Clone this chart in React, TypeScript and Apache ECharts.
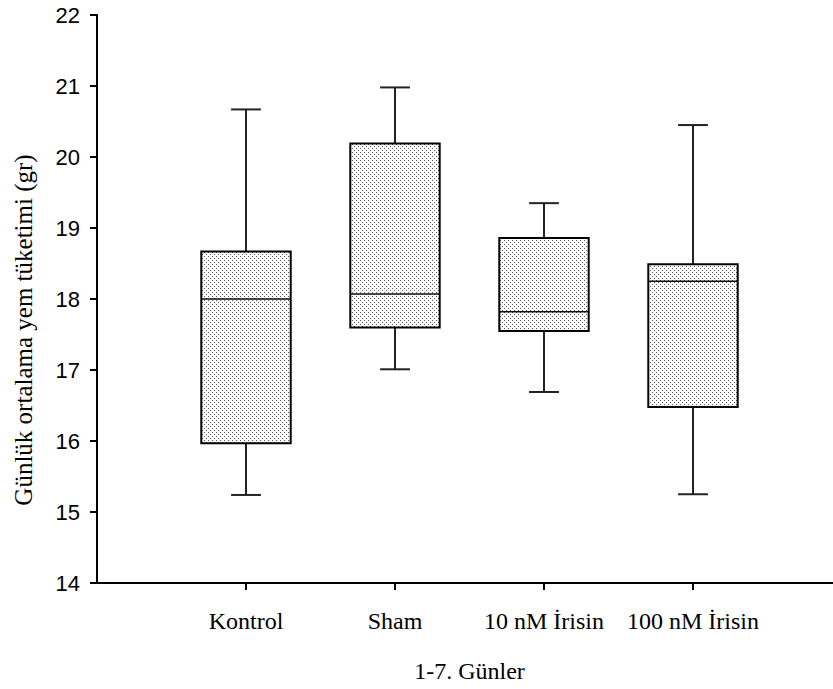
import React, { useEffect, useRef } from 'react';
import * as echarts from 'echarts';

// Category slots (blank slots at both ends keep the spacing of the original)
const categories = ['', 'Kontrol', 'Sham', '10 nM İrisin', '100 nM İrisin', ''];
const groups = ['Kontrol', 'Sham', '10 nM İrisin', '100 nM İrisin'];
const minValues = [15.24, 17.01, 16.69, 15.25];
const q1Values = [15.97, 17.6, 17.55, 16.48];
const medianValues = [18.0, 18.07, 17.82, 18.25];
const q3Values = [18.67, 20.19, 18.86, 18.49];
const maxValues = [20.67, 20.98, 19.35, 20.45];
const yMin = 14;
const yMax = 22;
const yInterval = 1;
const xTitle = '1-7. Günler';
const yTitle = 'Günlük ortalama yem tüketimi (gr)';

function makePattern(): HTMLCanvasElement {
  const c = document.createElement('canvas');
  c.width = 4;
  c.height = 4;
  const ctx = c.getContext('2d')!;
  ctx.fillStyle = '#ffffff';
  ctx.fillRect(0, 0, 4, 4);
  ctx.fillStyle = '#555555';
  ctx.fillRect(0, 0, 1, 1);
  ctx.fillRect(2, 2, 1, 1);
  return c;
}

export default function App() {
  const ref = useRef<HTMLDivElement>(null);
  useEffect(() => {
    if (!ref.current) return;
    const chart = echarts.init(ref.current, undefined, { renderer: 'svg' });
    const pattern = { image: makePattern(), repeat: 'repeat' };
    const data = groups.map((g, i) => [
      g,
      minValues[i],
      q1Values[i],
      medianValues[i],
      q3Values[i],
      maxValues[i],
    ]);
    const serif = "'Liberation Serif', 'Times New Roman', serif";
    const sans = "'Liberation Sans', Arial, sans-serif";
    chart.setOption({
      animation: false,
      backgroundColor: '#ffffff',
      grid: { left: 97, top: 15, width: 745, height: 568, containLabel: false },
      xAxis: {
        type: 'category',
        data: categories,
        boundaryGap: false,
        name: xTitle,
        nameLocation: 'middle',
        nameGap: 76,
        nameTextStyle: { fontFamily: serif, fontSize: 24, color: '#000' },
        axisLine: { show: true, lineStyle: { color: '#000', width: 2 } },
        axisTick: {
          show: true,
          length: 7,
          interval: (index: number) => index > 0 && index < categories.length - 1,
          lineStyle: { color: '#000', width: 2 },
        },
        axisLabel: {
          interval: 0,
          margin: 26,
          fontFamily: serif,
          fontSize: 24,
          color: '#000',
        },
        splitLine: { show: false },
      },
      yAxis: {
        type: 'value',
        min: yMin,
        max: yMax,
        interval: yInterval,
        axisLine: { show: true, lineStyle: { color: '#000', width: 2 } },
        axisTick: { show: true, length: 7, lineStyle: { color: '#000', width: 2 } },
        axisLabel: { margin: 17, fontFamily: sans, fontSize: 22, color: '#000' },
        splitLine: { show: false },
      },
      graphic: [
        {
          type: 'text',
          x: 23,
          y: 330,
          rotation: Math.PI / 2,
          style: {
            text: yTitle,
            fontFamily: serif,
            fontSize: 25,
            fill: '#000',
            textAlign: 'center',
            textVerticalAlign: 'middle',
          },
        },
      ],
      series: [
        {
          type: 'custom',
          data,
          encode: { x: 0, y: [1, 2, 3, 4, 5] },
          renderItem: (params: any, api: any) => {
            const x = api.value(0);
            const pMin = api.coord([x, api.value(1)]);
            const pQ1 = api.coord([x, api.value(2)]);
            const pMed = api.coord([x, api.value(3)]);
            const pQ3 = api.coord([x, api.value(4)]);
            const pMax = api.coord([x, api.value(5)]);
            const band = api.size([1, 0])[0];
            const bw = band * 0.6;
            const cw = band * 0.2;
            const cx = pMed[0];
            const whisker = { stroke: '#222', lineWidth: 2 };
            return {
              type: 'group',
              children: [
                { type: 'line', shape: { x1: cx, y1: pMax[1], x2: cx, y2: pQ3[1] }, style: whisker },
                { type: 'line', shape: { x1: cx - cw / 2, y1: pMax[1], x2: cx + cw / 2, y2: pMax[1] }, style: whisker },
                { type: 'line', shape: { x1: cx, y1: pQ1[1], x2: cx, y2: pMin[1] }, style: whisker },
                { type: 'line', shape: { x1: cx - cw / 2, y1: pMin[1], x2: cx + cw / 2, y2: pMin[1] }, style: whisker },
                {
                  type: 'rect',
                  shape: { x: cx - bw / 2, y: pQ3[1], width: bw, height: pQ1[1] - pQ3[1] },
                  style: { fill: pattern, stroke: '#000', lineWidth: 2 },
                },
                {
                  type: 'line',
                  shape: { x1: cx - bw / 2, y1: pMed[1], x2: cx + bw / 2, y2: pMed[1] },
                  style: { stroke: '#111', lineWidth: 1.5 },
                },
              ],
            };
          },
        },
      ],
    });
    return () => chart.dispose();
  }, []);
  return (
    <div
      style={{ position: 'absolute', left: 0, top: 0, width: 833, height: 689, overflow: 'hidden', background: '#fff' }}
    >
      <div ref={ref} style={{ width: 860, height: 689 }} />
    </div>
  );
}
